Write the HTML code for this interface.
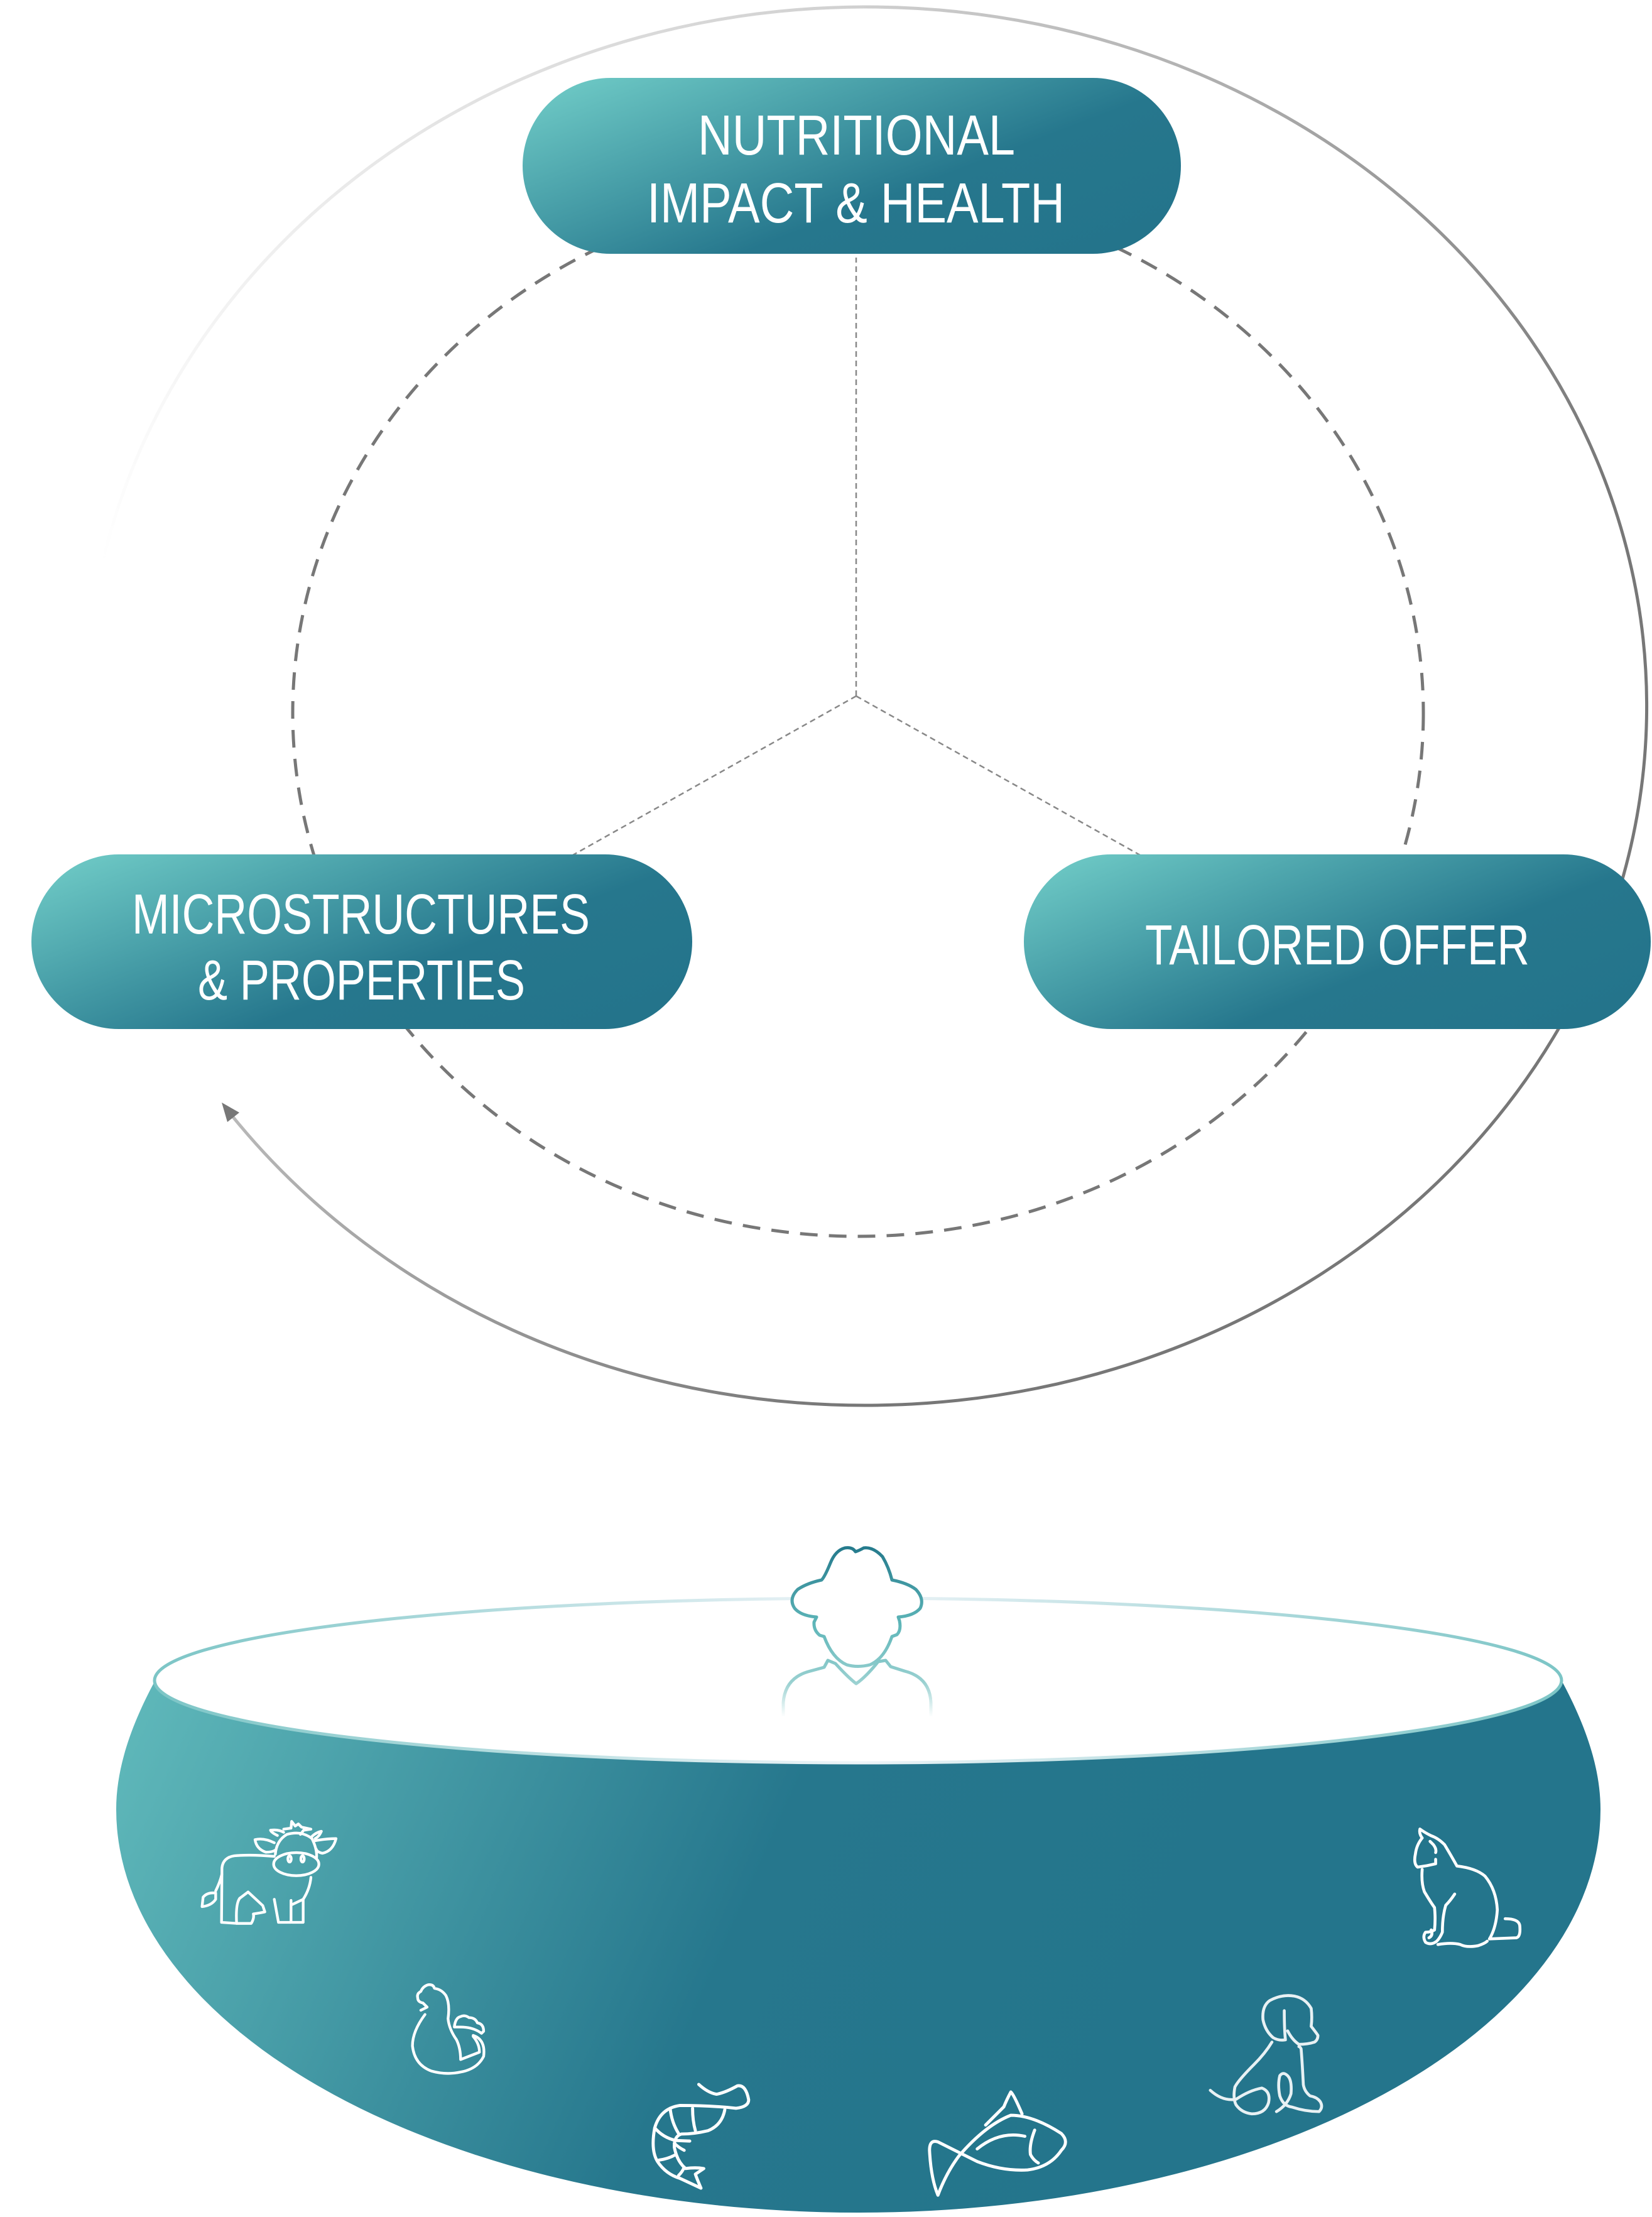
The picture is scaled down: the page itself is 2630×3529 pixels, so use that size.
<!DOCTYPE html>
<html><head><meta charset="utf-8"><style>html,body{margin:0;padding:0;background:#fff}svg{display:block}</style></head>
<body>
<svg width="2630" height="3529" viewBox="0 0 2630 3529" xmlns="http://www.w3.org/2000/svg">
<defs>
<linearGradient id="pill" x1="0" y1="0.15" x2="1" y2="0.85">
<stop offset="0" stop-color="#6bc6c3"/><stop offset="0.3" stop-color="#49a0a9"/><stop offset="0.62" stop-color="#26778d"/><stop offset="1" stop-color="#24748b"/></linearGradient>
<linearGradient id="arcA" gradientUnits="userSpaceOnUse" x1="163" y1="903" x2="1375" y2="8">
<stop offset="0" stop-color="#ffffff"/><stop offset="1" stop-color="#d0d0d0"/></linearGradient>
<linearGradient id="arcB" gradientUnits="userSpaceOnUse" x1="1375" y1="8" x2="2450" y2="900">
<stop offset="0" stop-color="#cfcfcf"/><stop offset="1" stop-color="#777777"/></linearGradient>
<linearGradient id="bowl" gradientUnits="userSpaceOnUse" x1="185" y1="2750" x2="1750" y2="3450">
<stop offset="0" stop-color="#5fb8ba"/><stop offset="0.6" stop-color="#26778d"/><stop offset="1" stop-color="#24758c"/></linearGradient>
<linearGradient id="rim" gradientUnits="userSpaceOnUse" x1="247" y1="0" x2="2486" y2="0">
<stop offset="0" stop-color="#7cc5c6"/><stop offset="0.5" stop-color="#eef4f8"/><stop offset="1" stop-color="#7cc5c6"/></linearGradient>
<linearGradient id="person" gradientUnits="userSpaceOnUse" x1="0" y1="2462" x2="0" y2="2733">
<stop offset="0" stop-color="#247a8c"/><stop offset="0.45" stop-color="#5db5b8"/><stop offset="0.8" stop-color="#9ad1d1"/><stop offset="1" stop-color="#ffffff"/></linearGradient>
</defs>

<!-- outer arc -->
<path d="M160 910 A1244 1113 0 0 1 1375 11" fill="none" stroke="url(#arcA)" stroke-width="5"/>
<path d="M1375 11 A1244 1113 0 1 1 371 1778" fill="none" stroke="url(#arcB)" stroke-width="5"/>
<polygon points="353,1755 381,1771 362,1786" fill="#777"/>

<!-- dashed ellipse & spokes -->
<ellipse cx="1366" cy="1135" rx="900" ry="833" fill="none" stroke="#777" stroke-width="5" stroke-dasharray="28 18"/>
<g stroke="#888" stroke-width="2.5" stroke-dasharray="9 6" fill="none">
<line x1="1363" y1="1108" x2="1363" y2="410"/>
<line x1="1363" y1="1108" x2="905" y2="1365"/>
<line x1="1363" y1="1108" x2="1822" y2="1365"/>
</g>

<!-- pills -->
<rect x="832" y="124" width="1048" height="280" rx="140" fill="url(#pill)"/>
<rect x="50" y="1360" width="1052" height="278" rx="139" fill="url(#pill)"/>
<rect x="1630" y="1360" width="998" height="278" rx="139" fill="url(#pill)"/>
<g fill="#fff" font-family="'Liberation Sans', sans-serif" font-size="90">
<text x="1111" y="246" textLength="505" lengthAdjust="spacingAndGlyphs">NUTRITIONAL</text>
<text x="1030" y="354" textLength="665" lengthAdjust="spacingAndGlyphs">IMPACT &amp; HEALTH</text>
<text x="210" y="1486" textLength="729" lengthAdjust="spacingAndGlyphs">MICROSTRUCTURES</text>
<text x="315" y="1591" textLength="521" lengthAdjust="spacingAndGlyphs">&amp; PROPERTIES</text>
<text x="1823" y="1535" textLength="612" lengthAdjust="spacingAndGlyphs">TAILORED OFFER</text>
</g>

<!-- bowl -->
<path d="M247 2675 C212 2740 185 2810 185 2880 A1181 642 0 0 0 1366 3522 A1181 642 0 0 0 2548 2880 C2548 2810 2521 2740 2486 2675 A1120 131 0 0 1 247 2675 Z" fill="url(#bowl)"/>
<ellipse cx="1366" cy="2675" rx="1120" ry="131" fill="#fff" stroke="url(#rim)" stroke-width="5"/>

<!-- person -->
<g fill="#fff" stroke="url(#person)" stroke-width="5" stroke-linejoin="round" stroke-linecap="round">
<path d="M1362 2470 Q1357 2462 1345 2464 Q1330 2468 1322 2488 Q1313 2510 1308 2515 Q1285 2520 1270 2530 Q1255 2545 1265 2560 Q1275 2572 1300 2574 L1296 2582 Q1295 2595 1305 2603 L1312 2605 Q1325 2640 1348 2650 Q1365 2655 1385 2650 Q1408 2640 1420 2605 L1428 2602 Q1435 2595 1432 2580 L1430 2574 Q1455 2572 1465 2560 Q1472 2545 1458 2530 Q1445 2520 1420 2515 Q1415 2495 1405 2478 Q1390 2462 1375 2464 Q1368 2468 1362 2470 Z"/>
<path fill="none" d="M1247 2733 L1247 2710 Q1250 2670 1290 2660 L1312 2654 L1318 2643 L1330 2648 Q1350 2670 1363 2680 Q1378 2670 1398 2645 L1410 2643 L1418 2653 L1440 2660 Q1480 2670 1482 2710 L1482 2733"/>
</g>

<!-- cow & chicken -->
<g transform="translate(300 2880) scale(0.3333)" fill="none" stroke="#fff" stroke-width="13" stroke-linecap="round" stroke-linejoin="round">
<path d="M410 225 Q300 215 220 222 Q165 230 160 280 L158 540 L230 545"/>
<path d="M230 545 L300 545 Q315 520 310 500 L340 495 L365 490 L355 460 L285 395 L245 425 Q225 450 230 545"/>
<path d="M410 430 L430 540 L490 540 L490 435"/>
<path d="M495 455 L548 430 L548 540 L495 540"/>
<path d="M585 325 Q580 380 548 430"/>
<ellipse cx="515" cy="262" rx="108" ry="55"/>
<path d="M415 215 Q420 150 470 120 Q540 100 590 140 Q615 190 612 232"/>
<path d="M410 160 Q360 135 318 145 Q325 190 370 205 Q400 205 415 195"/>
<path d="M605 150 Q660 140 705 140 Q690 200 640 210 Q615 205 610 190"/>
<path d="M425 125 Q395 110 392 100 Q430 95 455 110"/>
<path d="M590 130 Q610 110 635 105 Q625 130 605 140"/>
<path d="M455 95 L490 90 L493 58 L510 80 L525 70 L540 85 L585 95 L550 100 L535 120"/>
<ellipse cx="483" cy="237" rx="8" ry="15"/><ellipse cx="545" cy="237" rx="8" ry="15"/>
<path d="M160 310 Q150 350 130 390"/>
<path d="M130 400 Q90 395 70 420 L65 465 Q110 460 130 430 Z"/>
<path d="M1130 980 Q1070 1060 1070 1130 Q1080 1220 1160 1250 Q1230 1270 1300 1255 Q1380 1240 1410 1180 Q1420 1100 1360 1080"/>
<path d="M1110 960 L1140 945 L1120 925 Q1095 920 1095 900 Q1090 880 1110 870 Q1120 845 1145 838 Q1170 835 1175 855 Q1210 860 1230 890 Q1250 930 1240 1000 Q1245 1050 1280 1100 Q1300 1140 1300 1195 L1390 1160 Q1390 1120 1360 1085"/>
<path d="M1270 1040 Q1275 995 1300 990 Q1320 980 1340 995 Q1370 995 1380 1020 Q1410 1025 1410 1060 L1400 1070 Q1360 1040 1300 1040 Z"/>
</g>

<!-- shrimp & fish -->
<g transform="translate(1020 3280) scale(0.4464)" fill="none" stroke="#fff" stroke-width="11" stroke-linecap="round" stroke-linejoin="round">
<path d="M207 85 Q240 115 270 120 Q300 115 345 90 Q375 85 385 140 Q385 165 340 170 Q250 160 140 160 Q70 170 50 240 Q35 320 60 360 Q90 405 140 420 L215 455 Q200 420 195 405 L225 385 Q195 380 160 385 Q130 360 120 310 Q118 270 145 262 Q190 262 240 250 Q290 230 300 175"/>
<path d="M105 170 Q110 220 135 260"/><path d="M185 170 Q185 215 195 250"/>
<path d="M50 240 Q80 275 125 285 L175 287"/><path d="M120 295 Q135 310 155 320"/>
<path d="M65 355 Q100 350 125 335"/><path d="M135 410 Q150 395 155 380"/>
<path d="M1360 190 Q1330 120 1320 112 Q1305 140 1295 165 Q1260 200 1230 230"/>
<path d="M1060 480 Q1090 400 1135 340 Q1230 230 1320 195 Q1400 195 1500 260 Q1530 290 1500 320 Q1460 380 1380 390 Q1290 395 1200 360 Q1120 320 1060 290 Q1030 280 1030 320 Q1035 420 1060 480"/>
<path d="M1200 315 Q1280 250 1370 270"/>
<path d="M1405 248 Q1385 300 1390 335 Q1400 355 1418 365"/>
</g>

<!-- dog & cat -->
<g transform="translate(1900 2890) scale(0.357)" fill="none" stroke="#fff" stroke-width="13" stroke-linecap="round" stroke-linejoin="round">
<path d="M1020 240 Q1015 300 1030 340 Q1060 390 1075 410 Q1080 460 1075 510 Q1060 520 1035 520 Q1020 540 1035 565 Q1060 580 1085 560 Q1100 545 1110 520 Q1110 450 1125 400 Q1145 380 1165 350"/>
<path d="M1090 575 Q1150 565 1190 575 Q1220 590 1270 580 Q1300 570 1310 560"/>
<path d="M1320 550 Q1350 500 1355 420 Q1350 330 1300 270 Q1260 235 1175 225 Q1150 180 1120 130 Q1090 100 1060 90 Q1030 75 1010 60 Q1005 80 1020 100 Q995 130 990 170 Q980 215 1000 230 Q1040 225 1080 215 L1080 195"/>
<path d="M1320 550 L1440 545 Q1460 540 1455 490 Q1450 460 1390 460"/>
<path d="M1055 115 Q1065 125 1070 130 Q1085 150 1080 165"/>
<path d="M1050 545 Q1070 535 1060 510"/>
<g stroke="#e8f1f4">
<path d="M350 1010 Q320 1060 270 1110 Q200 1180 185 1210 Q175 1260 190 1290 Q215 1325 260 1330 Q320 1330 335 1280 Q345 1230 305 1215 Q250 1225 190 1265 Q130 1275 75 1225"/>
<path d="M370 1320 Q420 1290 435 1240 Q440 1180 420 1160 Q400 1140 385 1160 Q375 1200 385 1250 Q400 1295 440 1300 Q500 1320 560 1320 Q580 1300 565 1275 Q550 1255 520 1250 Q495 1230 490 1200 Q485 1100 480 1040 Q475 1030 470 1030"/>
<path d="M405 870 Q405 950 410 1000 Q380 1005 355 990 Q320 960 310 910 Q305 850 340 825 Q395 795 450 805 Q500 815 525 860 Q530 900 525 940 Q545 965 555 980 Q555 1000 540 1010 Q510 1020 470 1020 Q440 1000 420 960"/>
</g>
</g>
</svg>
</body></html>
